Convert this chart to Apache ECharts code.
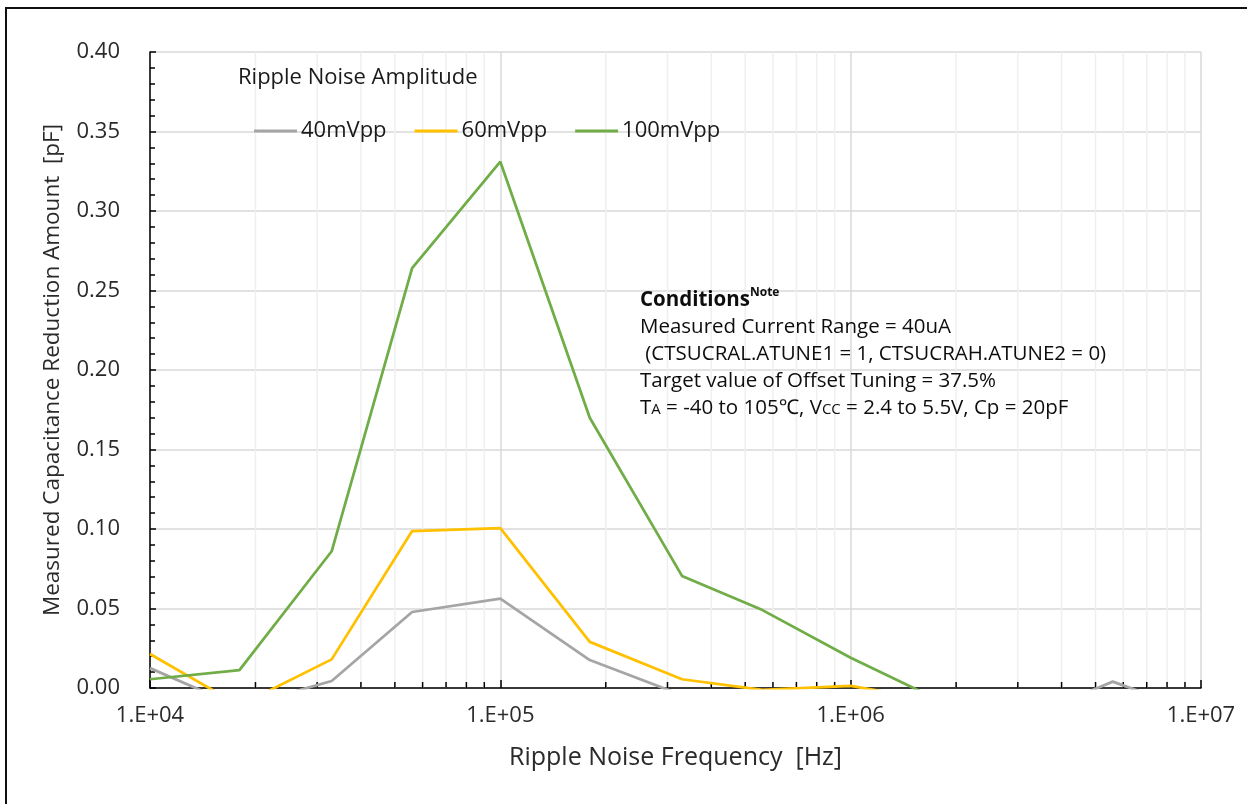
<!DOCTYPE html>
<html lang="en">
  <head>
    <meta charset="UTF-8" />
    <title>Ripple Noise</title>
    <script src="https://cdn.jsdelivr.net/npm/echarts@6/dist/echarts.min.js"></script>
  </head>
  <style>
    html,
    body {
      margin: 0;
      padding: 0;
      background: #fff;
    }
    #chart {
      width: 1247px;
      height: 804px;
    }
  </style>
  <body>
    <div id="chart"></div>
  </body>
  <script>
    // frequencies [Hz]
    const freqs = [1e4, 1.8e4, 3.3e4, 5.6e4, 1e5, 1.8e5, 3.3e5, 5.6e5, 1e6, 1.8e6, 3.3e6, 5.6e6, 1e7];
    // values below 0 are clipped by the axis, as in the original
    const amp40 = [0.0125, -0.012, 0.0044, 0.0478, 0.0562, 0.0176, -0.0045, -0.012, -0.015, -0.02, -0.017, 0.004, -0.016];
    const amp60 = [0.0214, -0.011, 0.018, 0.0987, 0.1006, 0.029, 0.0055, -0.0012, 0.0013, -0.0083, -0.012, -0.014, -0.015];
    const amp100 = [0.0055, 0.0113, 0.086, 0.264, 0.331, 0.17, 0.0705, 0.049, 0.019, -0.008, -0.02, -0.025, -0.03];
    const seriesNames = ["40mVpp", "60mVpp", "100mVpp"];
    const colors = ["#a5a5a5", "#ffc000", "#70ad47"];
    const minorTicks = [
      2e4, 3e4, 4e4, 5e4, 6e4, 7e4, 8e4, 9e4,
      2e5, 3e5, 4e5, 5e5, 6e5, 7e5, 8e5, 9e5,
      2e6, 3e6, 4e6, 5e6, 6e6, 7e6, 8e6, 9e6,
    ];

    const font = "'Open Sans', 'Noto Sans', sans-serif";
    const chart = echarts.init(document.getElementById("chart"));

    function pairs(vals) {
      return freqs.map((f, i) => [f, vals[i]]);
    }

    const lineSeries = [amp40, amp60, amp100].map((vals, i) => ({
      name: seriesNames[i],
      type: "line",
      data: pairs(vals),
      showSymbol: false,
      symbol: "none",
      clip: true,
      z: 3,
      lineStyle: { color: colors[i], width: 2.75 },
      itemStyle: { color: colors[i] },
    }));

    var option = {
      animation: false,
      backgroundColor: "#fff",
      grid: { left: 150, top: 52, right: 46, bottom: 116 },
      legend: {
        data: seriesNames,
        left: 249,
        top: 115,
        icon: "rect",
        itemWidth: 43,
        itemHeight: 3,
        itemGap: 28,
        textStyle: { fontFamily: font, fontSize: 22, color: "#1a1a1a", padding: [0, 0, 0, -1] },
      },
      graphic: [
        {
          type: "rect",
          shape: { x: 6, y: 8, width: 1400, height: 900 },
          style: { fill: null, stroke: "#111", lineWidth: 2 },
          silent: true,
        },
        {
          type: "text",
          left: 238,
          top: 67,
          z: 10,
          style: { text: "Ripple Noise Amplitude", font: "22px " + font, fill: "#1a1a1a" },
        },
        {
          type: "text",
          left: 640,
          top: 287,
          z: 10,
          style: {
            text: [
              "{b|Conditions}{sup|Note}",
              "Measured Current Range = 40uA",
              " (CTSUCRAL.ATUNE1 = 1, CTSUCRAH.ATUNE2 = 0)",
              "Target value of Offset Tuning = 37.5%",
              "T{s|A} = -40 to 105℃, V{s|CC} = 2.4 to 5.5V, Cp = 20pF",
            ].join("\n"),
            font: "20.5px " + font,
            fill: "#0d0d0d",
            lineHeight: 27,
            rich: {
              b: { fontWeight: "bold", fontSize: 20.5, fontFamily: font, lineHeight: 27 },
              sup: { fontSize: 12, fontWeight: "bold", fontFamily: font, verticalAlign: "top", lineHeight: 24 },
              s: { fontSize: 15, fontFamily: font, verticalAlign: "middle", lineHeight: 27, padding: [3, 0, 0, 0] },
            },
          },
        },
      ],
      xAxis: {
        type: "log",
        logBase: 10,
        min: 1e4,
        max: 1e7,
        name: "Ripple Noise Frequency  [Hz]",
        nameLocation: "middle",
        nameGap: 57,
        nameTextStyle: { fontFamily: font, fontSize: 25, color: "#2a2a2a" },
        axisLine: { onZero: false, lineStyle: { color: "#000", width: 1.5 } },
        axisTick: { show: true, inside: true, length: 8, lineStyle: { color: "#000", width: 1.5 } },
        axisLabel: {
          fontFamily: font,
          fontSize: 22,
          color: "#2a2a2a",
          margin: 17,
          formatter: (v) => "1.E+0" + Math.round(Math.log10(v)),
        },
        splitLine: { show: true, lineStyle: { color: "#d9d9d9", width: 1.5 } },
      },
      yAxis: {
        type: "value",
        min: 0,
        max: 0.4,
        interval: 0.05,
        name: "Measured Capacitance Reduction Amount  [pF]",
        nameLocation: "middle",
        nameGap: 86,
        nameTextStyle: { fontFamily: font, fontSize: 22.5, color: "#2a2a2a" },
        axisLine: { show: true, lineStyle: { color: "#000", width: 1.5 } },
        axisTick: { show: true, inside: true, length: 6, lineStyle: { color: "#000", width: 1.5 } },
        minorTick: { show: true, splitNumber: 5, length: 5, lineStyle: { color: "#000", width: 1.5 } },
        axisLabel: {
          fontFamily: font,
          fontSize: 22,
          color: "#2a2a2a",
          margin: 30,
          formatter: (v) => v.toFixed(2),
        },
        splitLine: { show: true, lineStyle: { color: "#d9d9d9", width: 1.5 } },
      },
      series: [
        {
          // minor grid lines + minor ticks on the log axis
          type: "custom",
          silent: true,
          clip: false,
          z: 1,
          data: minorTicks.map((f) => [f]),
          encode: { x: 0 },
          renderItem: function (params, api) {
            const f = api.value(0);
            const bottom = api.coord([f, 0]);
            const top = api.coord([f, 0.4]);
            return {
              type: "group",
              children: [
                {
                  type: "line",
                  shape: { x1: bottom[0], y1: bottom[1], x2: top[0], y2: top[1] },
                  style: { stroke: "#efefef", lineWidth: 1.5 },
                },
                {
                  type: "line",
                  z2: 10,
                  shape: { x1: bottom[0], y1: bottom[1], x2: bottom[0], y2: bottom[1] - 6 },
                  style: { stroke: "#000", lineWidth: 1.5 },
                },
              ],
            };
          },
        },
      ].concat(lineSeries),
    };
    chart.setOption(option);
  </script>
</html>
